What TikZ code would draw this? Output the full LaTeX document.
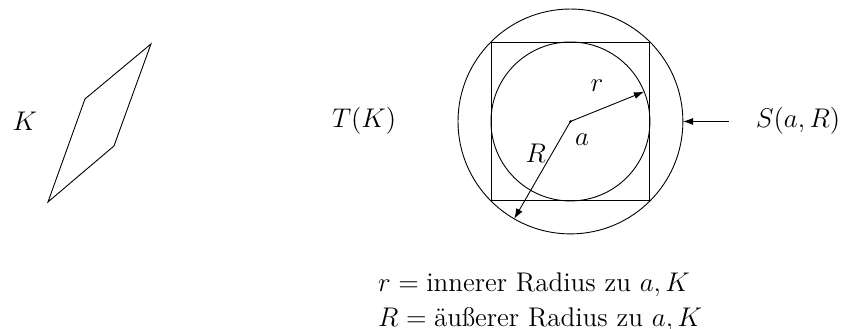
\documentclass[12pt,tikz,border=0pt]{standalone}
\usepackage{amsmath,amssymb}
\usetikzlibrary{arrows.meta, positioning, calc}
\tikzset{
    pfeil/.style={-{Latex[length=1.6mm,width=1.1mm]}},
    rand/.style={draw, inner sep=0pt, outer sep=0pt},
}

\begin{document}
\begin{tikzpicture}
    \useasboundingbox (0,0) rectangle (13.22,5.14);

    % Koerper K
    \draw (0.75,1.984) -- (1.328,3.594) -- (2.359,4.453) -- (1.781,2.859) -- cycle;
    \node (K) at (0.39,3.25) {$K$};

    % Bild T(K) mit Quadrat, Inkreis und Umkreis
    \node (TK) at (5.69,3.25) {$T(K)$};
    \coordinate (a) at (8.914,3.242);
    \node[rand, minimum size=2.484cm] (quadrat) at (a) {};
    \node[rand, circle, minimum size=2.484cm] (inkreis) at (a) {};
    \node[rand, circle, minimum size=3.514cm] (umkreis) at (a) {};
    \fill (a) circle (0.6pt);

    % Radien
    \draw[pfeil] (a) -- (inkreis.22);
    \draw[pfeil] (a) -- (umkreis.240);
    \node (rlabel) at ($(a)+(0.414,0.555)$) {$r$};
    \node (alabel) at ($(a)+(0.18,-0.29)$) {$a$};
    \node (Rlabel) at ($(a)+(-0.54,-0.49)$) {$R$};

    % Sphaere S(a,R)
    \node (S) at (12.47,3.25) {$S(a,R)$};
    \coordinate (s0) at (11.39,3.242);
    \draw[pfeil] (s0) -- (umkreis.east);

    % Legende
    \node[align=left, inner sep=0pt] (legende) at (8.44,0.42)
        {$r = \text{innerer Radius zu } a, K$\\[1pt]
         $R = \text{äußerer Radius zu } a, K$};
\end{tikzpicture}
\end{document}
